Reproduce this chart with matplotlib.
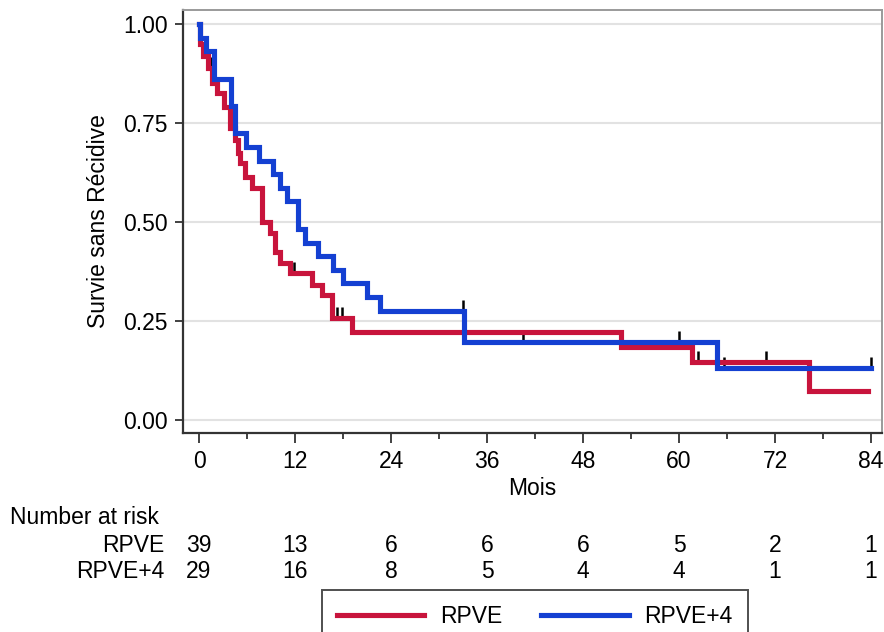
import numpy as np
import matplotlib
matplotlib.use("Agg")
import matplotlib.pyplot as plt
from matplotlib.lines import Line2D
import matplotlib.transforms as mtransforms

plt.rcParams['font.family'] = ['Liberation Sans', 'DejaVu Sans']

# ---- data ----
red_label = "RPVE"
blue_label = "RPVE+4"

red_t = [0, 0.1, 0.5, 1.1, 1.6, 2.25, 3.1, 3.9, 4.5, 4.9, 5.1, 5.75, 6.6, 7.9,
         8.9, 9.5, 10.1, 11.4, 14.1, 15.4, 16.6, 19.1, 52.75, 61.6, 76.25, 83.6]
red_s = [1.0, 0.949, 0.918, 0.889, 0.851, 0.826, 0.790, 0.737, 0.707, 0.674,
         0.649, 0.614, 0.586, 0.500, 0.472, 0.424, 0.396, 0.371, 0.341, 0.316,
         0.258, 0.222, 0.184, 0.146, 0.073, 0.073]
red_cens = [1.5, 11.9, 17.25, 17.9, 62.4, 70.9]

blue_t = [0, 0.1, 0.9, 1.9, 4.0, 4.5, 5.9, 7.5, 9.25, 10.1, 11.0, 12.4, 13.25,
          14.9, 16.75, 18.0, 21.0, 22.6, 33.1, 64.75, 84.0]
blue_s = [1.0, 0.965, 0.931, 0.862, 0.793, 0.724, 0.690, 0.655, 0.621, 0.586,
          0.552, 0.483, 0.448, 0.414, 0.379, 0.345, 0.310, 0.276, 0.197, 0.131,
          0.131]
blue_cens = [33.0, 40.5, 60.0, 65.6, 84.0]

x_ticks = [0, 12, 24, 36, 48, 60, 72, 84]
y_ticks = [0.0, 0.25, 0.5, 0.75, 1.0]
y_ticklabels = ["0.00", "0.25", "0.50", "0.75", "1.00"]
risk_red = [39, 13, 6, 6, 6, 5, 2, 1]
risk_blue = [29, 16, 8, 5, 4, 4, 1, 1]

RED = "#C8143C"
BLUE = "#1440D2"
FS = 16.5

W, H = 884, 632
fig = plt.figure(figsize=(W / 100, H / 100), dpi=100)
ax_l, ax_r, ax_t, ax_b = 183, 882, 10, 433
ax = fig.add_axes([ax_l / W, 1 - ax_b / H, (ax_r - ax_l) / W, (ax_b - ax_t) / H])

ax.set_xlim(-2, 85.375)
ax.set_ylim(-0.0328, 1.035)


def step_value(ts, ss, t):
    i = np.searchsorted(ts, t, side='right') - 1
    return ss[max(i, 0)]


for ts, ss, cens, col in [(red_t, red_s, red_cens, RED), (blue_t, blue_s, blue_cens, BLUE)]:
    ax.step(ts, ss, where='post', color=col, lw=3.7, zorder=3, solid_joinstyle='miter')
    cv = [step_value(ts, ss, c) for c in cens]
    ax.vlines(cens, np.array(cv), np.array(cv) + 0.028, color='black', lw=1.8, zorder=2)

# grid
for y in y_ticks:
    ax.axhline(y, color='#e2e2e2', lw=1.5, zorder=0)

ax.set_xticks(x_ticks)
ax.set_xticks([6, 18, 30, 42, 54, 66, 78], minor=True)
ax.set_yticks(y_ticks)
ax.set_yticklabels(y_ticklabels)
ax.tick_params(axis='x', which='major', length=7, width=1.3, pad=5, labelsize=FS, color='#333333')
ax.tick_params(axis='x', which='minor', length=4, width=1.3, color='#333333')
ax.tick_params(axis='y', which='major', length=6, width=1.3, pad=5, labelsize=FS, color='#333333')

for s in ['left', 'bottom']:
    ax.spines[s].set_color('#333333')
    ax.spines[s].set_linewidth(1.6)
for s in ['top', 'right']:
    ax.spines[s].set_color('#9a9a9a')
    ax.spines[s].set_linewidth(1.4)

ax.set_xlabel("Mois", fontsize=FS)
ax.set_ylabel("Survie sans Récidive", fontsize=FS)
ax.xaxis.set_label_coords(0.5, -0.105)
ax.yaxis.set_label_coords(-0.104, 0.5)

# number at risk table
trans = mtransforms.blended_transform_factory(ax.transData, fig.transFigure)
fig.text(10 / W, 1 - 518 / H, "Number at risk", fontsize=FS, ha='left', va='center')
for lab, vals, ypix in [(red_label, risk_red, 545), (blue_label, risk_blue, 572)]:
    fig.text(164 / W, 1 - ypix / H, lab, fontsize=FS, ha='right', va='center')
    for xt, v in zip(x_ticks, vals):
        ax.text(xt, 1 - ypix / H, str(v), transform=trans, fontsize=FS,
                ha='center', va='center', clip_on=False)

handles = [Line2D([], [], color=RED, lw=3.7), Line2D([], [], color=BLUE, lw=3.7)]
leg = fig.legend(handles, [red_label, blue_label], loc='upper center',
                 bbox_to_anchor=(535 / W, 1 - 590 / H), ncol=2, fontsize=FS,
                 frameon=True, fancybox=False, edgecolor='#222222',
                 handlelength=3.8, handletextpad=0.7, columnspacing=1.7,
                 borderpad=0.65, borderaxespad=0)
leg.get_frame().set_linewidth(1.4)

fig.savefig("out.png", dpi=100)
